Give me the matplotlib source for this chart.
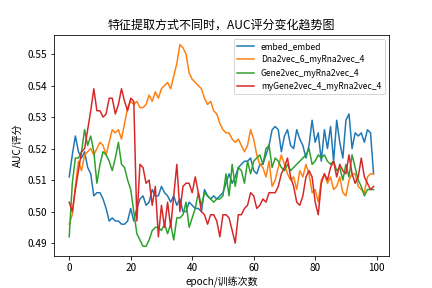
import matplotlib
matplotlib.use('Agg')
import matplotlib.pyplot as plt

plt.rcParams['font.family'] = ['Noto Sans CJK SC', 'DejaVu Sans']
plt.rcParams['axes.unicode_minus'] = False

epochs = list(range(100))

embed_embed = [
    0.511, 0.518, 0.524, 0.519, 0.517, 0.519, 0.514, 0.512, 0.505, 0.506,
    0.506, 0.504, 0.501, 0.497, 0.498, 0.497, 0.497, 0.496, 0.496, 0.497,
    0.501, 0.497, 0.501, 0.504, 0.505, 0.502, 0.503, 0.507, 0.505, 0.505,
    0.508, 0.506, 0.505, 0.503, 0.505, 0.502, 0.504, 0.500, 0.500, 0.503,
    0.502, 0.501, 0.501, 0.500, 0.507, 0.505, 0.504, 0.505, 0.504, 0.505,
    0.506, 0.509, 0.512, 0.509, 0.511, 0.514, 0.515, 0.516, 0.516, 0.517,
    0.513, 0.512, 0.515, 0.515, 0.518, 0.521, 0.526, 0.527, 0.526, 0.519,
    0.524, 0.526, 0.521, 0.520, 0.526, 0.523, 0.521, 0.517, 0.521, 0.529,
    0.522, 0.525, 0.516, 0.526, 0.520, 0.527, 0.516, 0.529, 0.522, 0.517,
    0.529, 0.531, 0.520, 0.525, 0.524, 0.525, 0.522, 0.526, 0.525, 0.512,
]

dna2vec = [
    0.496, 0.499, 0.508, 0.516, 0.513, 0.518, 0.519, 0.520, 0.518, 0.520,
    0.522, 0.521, 0.518, 0.522, 0.526, 0.525, 0.526, 0.523, 0.528, 0.533,
    0.535, 0.534, 0.535, 0.533, 0.533, 0.534, 0.537, 0.535, 0.538, 0.536,
    0.539, 0.540, 0.541, 0.539, 0.543, 0.547, 0.553, 0.552, 0.550, 0.544,
    0.542, 0.541, 0.540, 0.539, 0.536, 0.534, 0.535, 0.532, 0.531, 0.528,
    0.526, 0.525, 0.525, 0.523, 0.522, 0.523, 0.521, 0.519, 0.521, 0.526,
    0.523, 0.518, 0.515, 0.514, 0.511, 0.516, 0.508, 0.510, 0.514, 0.518,
    0.515, 0.512, 0.510, 0.511, 0.507, 0.513, 0.511, 0.515, 0.512, 0.506,
    0.507, 0.503, 0.510, 0.512, 0.509, 0.511, 0.507, 0.508, 0.511, 0.506,
    0.505, 0.510, 0.512, 0.512, 0.508, 0.507, 0.506, 0.511, 0.512, 0.512,
]

gene2vec = [
    0.492, 0.509, 0.517, 0.517, 0.519, 0.526, 0.521, 0.524, 0.519, 0.509,
    0.515, 0.519, 0.518, 0.516, 0.513, 0.517, 0.522, 0.515, 0.514, 0.510,
    0.507, 0.500, 0.493, 0.491, 0.489, 0.489, 0.491, 0.494, 0.495, 0.495,
    0.494, 0.496, 0.493, 0.496, 0.491, 0.498, 0.498, 0.499, 0.503, 0.495,
    0.498, 0.501, 0.506, 0.502, 0.506, 0.505, 0.504, 0.503, 0.504, 0.504,
    0.505, 0.512, 0.505, 0.515, 0.508, 0.514, 0.513, 0.509, 0.516, 0.512,
    0.516, 0.517, 0.518, 0.515, 0.520, 0.521, 0.514, 0.517, 0.516, 0.514,
    0.513, 0.515, 0.513, 0.514, 0.515, 0.516, 0.517, 0.518, 0.520, 0.515,
    0.516, 0.518, 0.517, 0.518, 0.516, 0.515, 0.516, 0.513, 0.514, 0.510,
    0.515, 0.511, 0.518, 0.514, 0.510, 0.508, 0.505, 0.507, 0.507, 0.507,
]

mygene2vec = [
    0.503, 0.500, 0.507, 0.513, 0.519, 0.520, 0.526, 0.532, 0.539, 0.532,
    0.532, 0.530, 0.531, 0.536, 0.536, 0.531, 0.534, 0.539, 0.535, 0.532,
    0.536, 0.535, 0.497, 0.515, 0.514, 0.509, 0.510, 0.502, 0.508, 0.492,
    0.502, 0.495, 0.503, 0.495, 0.505, 0.515, 0.500, 0.508, 0.509, 0.509,
    0.506, 0.511, 0.506, 0.500, 0.499, 0.496, 0.499, 0.499, 0.497, 0.492,
    0.499, 0.499, 0.498, 0.494, 0.490, 0.499, 0.499, 0.501, 0.502, 0.506,
    0.505, 0.501, 0.502, 0.504, 0.503, 0.506, 0.506, 0.506, 0.508, 0.512,
    0.514, 0.517, 0.511, 0.508, 0.503, 0.502, 0.505, 0.511, 0.513, 0.511,
    0.503, 0.499, 0.509, 0.512, 0.510, 0.514, 0.516, 0.511, 0.515, 0.513,
    0.512, 0.518, 0.512, 0.509, 0.511, 0.517, 0.511, 0.509, 0.507, 0.508,
]

labels = ['embed_embed', 'Dna2vec_6_myRna2vec_4',
          'Gene2vec_myRna2vec_4', 'myGene2vec_4_myRna2vec_4']

fig, ax = plt.subplots(figsize=(6, 4), dpi=72)
for series, name in zip([embed_embed, dna2vec, gene2vec, mygene2vec], labels):
    ax.plot(epochs, series, label=name)

ax.set_title('特征提取方式不同时，AUC评分变化趋势图')
ax.set_xlabel('epoch/训练次数')
ax.set_ylabel('AUC/评分')
ax.legend(loc='upper right', fontsize=8.5)

fig.savefig('out.png', dpi=72)
